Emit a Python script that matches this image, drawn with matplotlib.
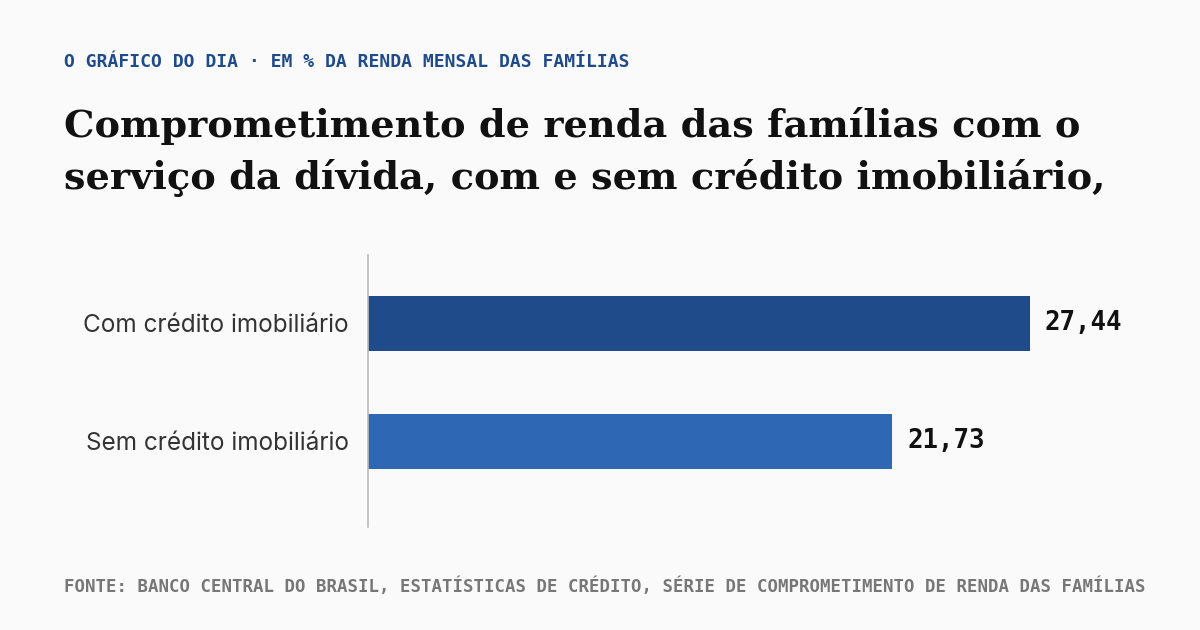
import matplotlib.pyplot as plt

categorias = ["Com crédito imobiliário", "Sem crédito imobiliário"]
valores = [27.44, 21.73]
rotulos = ["27,44", "21,73"]
cores = ["#1f4b8a", "#2e67b4"]

W, H = 1200, 630
fig = plt.figure(figsize=(12, 6.3), dpi=100, facecolor="#fafafa")

# eixo: x de 368px a 1200px, y de 255px a 527px
ax = fig.add_axes([368 / W, 1 - 527 / H, (W - 368) / W, (527 - 255) / H])
ax.set_facecolor("none")
escala = (1030 - 368) / 27.44
ax.set_xlim(0, (W - 368) / escala)
ax.set_ylim(1.725, -0.58)

pos = list(range(len(categorias)))
ax.barh(pos, valores, height=0.466, color=cores)
for p, v, r in zip(pos, valores, rotulos):
    ax.text(v + 0.62, p, r, va="center", ha="left", fontsize=18.5,
            fontweight="bold", family="DejaVu Sans Mono", color="#111111")

ax.set_yticks(pos)
ax.set_yticklabels(categorias, fontsize=17.5, family="Inter", color="#333333")
ax.tick_params(axis="y", length=0, pad=14)
ax.set_xticks([])
for s in ["top", "right", "bottom"]:
    ax.spines[s].set_visible(False)
ax.spines["left"].set_color("#bbbbbb")
ax.spines["left"].set_linewidth(1.2)

fig.text(64 / W, 1 - 62 / H, "O GRÁFICO DO DIA · EM % DA RENDA MENSAL DAS FAMÍLIAS",
         fontsize=13, family="DejaVu Sans Mono", fontweight="bold",
         color="#1f4b8a", va="center")
fig.text(64 / W, 1 - 152 / H,
         "Comprometimento de renda das famílias com o\nserviço da dívida, com e sem crédito imobiliário,",
         fontsize=27.5, family="DejaVu Serif", fontweight="bold", color="#111111",
         va="center", linespacing=1.45)
fig.text(64 / W, 1 - 587 / H,
         "FONTE: BANCO CENTRAL DO BRASIL, ESTATÍSTICAS DE CRÉDITO, SÉRIE DE COMPROMETIMENTO DE RENDA DAS FAMÍLIAS",
         fontsize=12.5, family="DejaVu Sans Mono", fontweight="bold",
         color="#777777", va="center")

fig.savefig("out.png", dpi=100, facecolor=fig.get_facecolor())
